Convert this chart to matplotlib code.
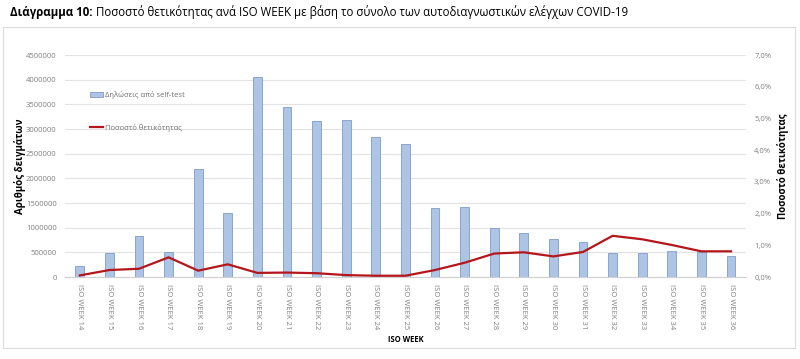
import matplotlib.pyplot as plt
from matplotlib.patches import Rectangle
from matplotlib.ticker import FuncFormatter

weeks = [f"ISO WEEK {w}" for w in range(14, 37)]
self_tests = [223000, 495000, 825000, 500000, 2190000, 1303000, 4048000, 3446000,
              3155000, 3190000, 2845000, 2703000, 1392000, 1413000, 993000, 892000,
              770000, 703000, 488000, 493000, 527000, 513000, 426000]
positivity = [0.05, 0.22, 0.26, 0.62, 0.20, 0.40, 0.13, 0.14, 0.12, 0.06, 0.04, 0.04,
              0.22, 0.45, 0.74, 0.78, 0.65, 0.79, 1.30, 1.19, 1.01, 0.81, 0.81]

plt.rcParams['font.family'] = ['Open Sans', 'DejaVu Sans']

fig = plt.figure(figsize=(8, 3.59), dpi=100)

# light frame around the chart
fig.patches.append(Rectangle((0.00375, 0.0306), 0.99, 0.894, transform=fig.transFigure,
                             fill=False, edgecolor='#dcdcdc', linewidth=0.8))

# title: bold prefix + regular text
t1 = fig.text(0.0125, 0.966, "Διάγραμμα 10:", fontsize=8.3, fontweight='bold', va='center')
fig.canvas.draw()
bb = t1.get_window_extent()
fig.text((bb.x1 + 3) / 800, 0.966,
         "Ποσοστό θετικότητας ανά ISO WEEK με βάση το σύνολο των αυτοδιαγνωστικών ελέγχων COVID-19",
         fontsize=8.3, va='center')

ax = fig.add_axes([0.08125, 0.2284, 0.851, 0.618])
x = range(len(weeks))
bars = ax.bar(x, self_tests, width=0.3, color='#aec4e5', edgecolor='#7e9cc9', linewidth=0.6,
              label='Δηλώσεις από self-test', zorder=2)
ax.set_ylim(0, 4500000)
ax.set_xlim(-0.5, len(weeks) - 0.5)
ax.set_yticks(range(0, 4500001, 500000))
ax.yaxis.set_major_formatter(FuncFormatter(lambda v, p: f"{int(v)}"))
ax.grid(axis='y', color='#e3e3e3', linewidth=0.8, zorder=0)
ax.set_axisbelow(True)
for s in ['top', 'left', 'right']:
    ax.spines[s].set_visible(False)
ax.spines['bottom'].set_color('#d0d0d0')
ax.tick_params(axis='y', length=0, labelsize=5.5, labelcolor='#808080', pad=6)
ax.tick_params(axis='x', length=0, labelsize=5.5, labelcolor='#808080', pad=5)
ax.set_xticks(list(x))
ax.set_xticklabels(weeks, rotation=-90, va='top', ha='center')
ax.set_ylabel("Αριθμός δειγμάτων", fontsize=7, fontweight='bold')
ax.yaxis.set_label_coords(-0.057, 0.5)
ax.set_xlabel("ISO WEEK", fontsize=5.5, fontweight='bold', labelpad=4)

ax2 = ax.twinx()
line, = ax2.plot(list(x), positivity, color='#b3161b', linewidth=1.6,
                 label='Ποσοστό θετικότητας', zorder=3, solid_joinstyle='round')
ax2.set_ylim(0, 7.0)
ax2.set_yticks([0, 1, 2, 3, 4, 5, 6, 7])
ax2.yaxis.set_major_formatter(FuncFormatter(lambda v, p: f"{v:.1f}%".replace('.', ',')))
for s in ['top', 'left', 'right', 'bottom']:
    ax2.spines[s].set_visible(False)
ax2.tick_params(axis='y', length=0, labelsize=5.5, labelcolor='#808080', pad=6)
ax2.set_ylabel("Ποσοστό θετικότητας", fontsize=7, fontweight='bold')
ax2.yaxis.set_label_coords(1.046, 0.5)

leg = ax2.legend([bars, line], ['Δηλώσεις από self-test', 'Ποσοστό θετικότητας'],
                 loc='upper left', bbox_to_anchor=(0.027, 0.87), frameon=False,
                 fontsize=5.5, labelspacing=3.2, handlelength=1.7, handletextpad=0.2)
for txt in leg.get_texts():
    txt.set_color('#707070')

fig.savefig('out.png', dpi=100)
